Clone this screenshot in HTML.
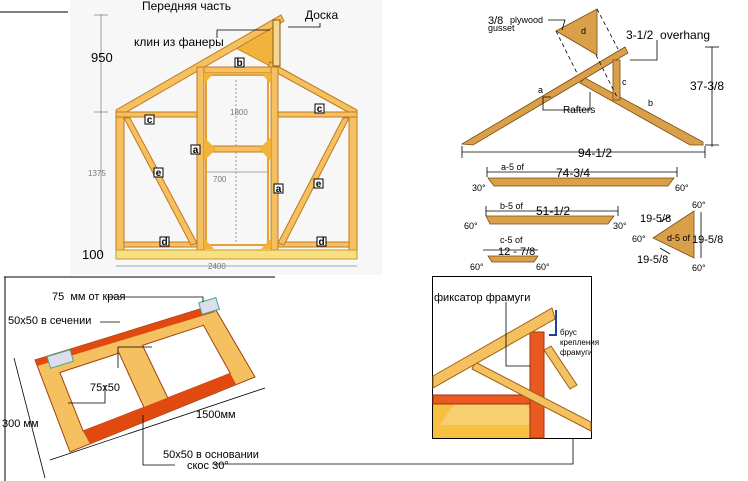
<!DOCTYPE html>
<html><head><meta charset="utf-8"><style>
html,body{margin:0;padding:0;background:#fff;}
svg{display:block;font-family:"Liberation Sans","DejaVu Sans",sans-serif;}
</style></head><body>
<svg width="748" height="481" viewBox="0 0 748 481" xmlns="http://www.w3.org/2000/svg">
<rect x="70" y="0" width="312" height="275" fill="#f7f7f7"/>
<line x1="0" y1="12" x2="68" y2="12" stroke="#000" stroke-width="1"/>
<line x1="4" y1="277" x2="275" y2="277" stroke="#000" stroke-width="1"/>
<g stroke="#888" stroke-width="0.8">
<line x1="101" y1="14" x2="101" y2="255"/><line x1="94" y1="15" x2="108" y2="15"/><line x1="94" y1="112" x2="108" y2="112"/>
<line x1="116" y1="266" x2="357" y2="266"/><line x1="236" y1="80" x2="236" y2="245" stroke-dasharray="2,2"/>
<line x1="206" y1="172" x2="268" y2="172"/>
</g>
<polygon points="230,45 280,18 274,68" fill="#f2b33c" stroke="#c98a20"/>
<polygon points="116,110 281,15 284,21 118,117" fill="#f4c060" stroke="#c07a20"/>
<polygon points="270,62 357,110 357,117 268,68" fill="#f4c060" stroke="#c07a20"/>
<rect x="273" y="20" width="7" height="46" fill="#f5d890" stroke="#8a5a10"/>
<rect x="116" y="112" width="8" height="138" fill="#f4c060" stroke="#c07a20"/>
<rect x="349" y="112" width="8" height="138" fill="#f4c060" stroke="#c07a20"/>
<rect x="197" y="67" width="7" height="183" fill="#f4c060" stroke="#c07a20"/>
<rect x="271" y="67" width="7" height="183" fill="#f4c060" stroke="#c07a20"/>
<rect x="204" y="67" width="67" height="6" fill="#f4c060" stroke="#c07a20"/>
<rect x="116" y="112" width="81" height="5" fill="#f4c060" stroke="#c07a20"/>
<rect x="278" y="112" width="79" height="5" fill="#f4c060" stroke="#c07a20"/>
<rect x="124" y="242" width="73" height="5" fill="#f4c060" stroke="#c07a20"/>
<rect x="278" y="242" width="71" height="5" fill="#f4c060" stroke="#c07a20"/>
<rect x="116" y="250" width="241" height="9" fill="#f8e080" stroke="#c09a30"/>
<polygon points="124,118 130,118 197,243 191,245" fill="#f4c060" stroke="#c07a20"/>
<polygon points="349,118 343,118 278,243 284,245" fill="#f4c060" stroke="#c07a20"/>
<rect x="206" y="75" width="62" height="170" fill="none" stroke="#e8a030" stroke-width="2"/>
<rect x="210" y="146" width="54" height="6" fill="#f4c060" stroke="#c07a20"/>
<polygon points="204,137 216,149 204,161" fill="#f2b33c"/><polygon points="271,137 259,149 271,161" fill="#f2b33c"/>
<polygon points="204,73 214,73 204,84" fill="#f2b33c"/><polygon points="271,73 261,73 271,84" fill="#f2b33c"/>
<polygon points="204,249 204,238 214,249" fill="#f2b33c"/><polygon points="271,249 271,238 261,249" fill="#f2b33c"/>
<g font-size="10" font-weight="bold" text-anchor="middle">
<rect x="235" y="58" width="9" height="9" fill="#fff" stroke="#000"/><text x="239.5" y="66">b</text>
<rect x="145" y="115" width="9" height="9" fill="#fff" stroke="#000"/><text x="149.5" y="123">c</text>
<rect x="315" y="104" width="9" height="9" fill="#fff" stroke="#000"/><text x="319.5" y="112">c</text>
<rect x="191" y="145" width="9" height="9" fill="#fff" stroke="#000"/><text x="195.5" y="153">a</text>
<rect x="274" y="184" width="9" height="9" fill="#fff" stroke="#000"/><text x="278.5" y="192">a</text>
<rect x="154" y="168" width="9" height="9" fill="#fff" stroke="#000"/><text x="158.5" y="176">e</text>
<rect x="314" y="179" width="9" height="9" fill="#fff" stroke="#000"/><text x="318.5" y="187">e</text>
<rect x="160" y="237" width="9" height="9" fill="#fff" stroke="#000"/><text x="164.5" y="245">d</text>
<rect x="317" y="237" width="9" height="9" fill="#fff" stroke="#000"/><text x="321.5" y="245">d</text>
</g>
<g font-size="12" fill="#000">
<text x="142" y="10">Передняя часть</text>
<text x="305" y="19">Доска</text>
<text x="134" y="46">клин из фанеры</text>
<text x="91" y="62" font-size="13">950</text>
<text x="82" y="259" font-size="13">100</text>
</g>
<polyline points="217,38 217,30 270,30" fill="none" stroke="#000" stroke-width="0.8"/>
<polyline points="288,27 320,27 320,23" fill="none" stroke="#000" stroke-width="0.8"/>
<g font-size="8" fill="#777"><text x="88" y="176">1375</text><text x="208" y="269">2400</text><text x="230" y="115">1800</text><text x="213" y="182">700</text></g>

<g stroke="#7a4a10" fill="#d9a049" stroke-width="0.8">
<polygon points="556,31 597,9 597,55"/>
<polygon points="462,144 625,47 628,53 473,145"/>
<polygon points="585,78 703,142 703,145 690,145 580,83"/>
<rect x="613" y="60" width="7" height="40"/>
<polygon points="488,178 674,178 668,186 494,186"/>
<polygon points="486,216 614,216 608,224 490,224"/>
<polygon points="488,256 538,256 534,262 492,262"/>
<polygon points="653,238 694,211 694,258"/>
</g>
<g stroke="#000" stroke-width="0.8" fill="none">
<line x1="556" y1="31" x2="577" y2="73" stroke-dasharray="4,3"/>
<line x1="597" y1="9" x2="618" y2="49" stroke-dasharray="4,3"/>
<line x1="596" y1="55" x2="617" y2="97" stroke-dasharray="4,3"/>
<line x1="462" y1="152" x2="705" y2="152"/><line x1="462" y1="146" x2="462" y2="158"/><line x1="705" y1="146" x2="705" y2="158"/>
<line x1="712" y1="47" x2="712" y2="147"/><line x1="705" y1="47" x2="719" y2="47"/><line x1="705" y1="145" x2="719" y2="145"/>
<line x1="487" y1="172" x2="677" y2="172"/><line x1="487" y1="167" x2="487" y2="177"/><line x1="677" y1="167" x2="677" y2="177"/>
<line x1="486" y1="211" x2="618" y2="211"/><line x1="486" y1="206" x2="486" y2="216"/><line x1="618" y1="206" x2="618" y2="216"/>
<line x1="483" y1="250" x2="538" y2="250"/>
<line x1="701" y1="212" x2="701" y2="258"/>
<line x1="660" y1="222" x2="670" y2="216"/><line x1="660" y1="248" x2="670" y2="254"/>
<polyline points="548,20 565,20 562,30"/>
<polyline points="657,40 657,60 630,60"/>
<polyline points="551,97 543,97 543,110 590,110 590,92"/>
</g>
<g font-size="9" fill="#000">
<text x="488" y="24" font-size="11">3/8</text><text x="510" y="23">plywood</text><text x="488" y="31">gusset</text>
<text x="581" y="34">d</text>
<text x="626" y="39" font-size="12">3-1/2&#160; overhang</text>
<text x="690" y="90" font-size="12">37-3/8</text>
<text x="578" y="157" font-size="12">94-1/2</text>
<text x="538" y="93">a</text><text x="622" y="85">c</text><text x="648" y="106">b</text>
<text x="563" y="113" font-size="10">Rafters</text>
<text x="501" y="170">a-5 of</text><text x="556" y="177" font-size="12">74-3/4</text>
<text x="472" y="191">30°</text><text x="675" y="191">60°</text>
<text x="500" y="209">b-5 of</text><text x="536" y="215" font-size="12">51-1/2</text>
<text x="464" y="229">60°</text><text x="613" y="229">30°</text>
<text x="500" y="243">c-5 of</text><text x="498" y="255" font-size="11">12 - 7/8</text>
<text x="470" y="270">60°</text><text x="536" y="270">60°</text>
<text x="640" y="222" font-size="11">19-5/8</text><text x="692" y="243" font-size="11">19-5/8</text><text x="637" y="263" font-size="11">19-5/8</text>
<text x="632" y="242">60°</text><text x="692" y="208">60°</text><text x="692" y="271">60°</text>
<text x="667" y="241">d-5 of</text>
</g>

<line x1="5" y1="277" x2="5" y2="481" stroke="#000"/>
<path fill-rule="evenodd" fill="#f4c060" stroke="#a04010" stroke-width="1"
d="M35,360 L213,305 L255,377 L70,452 Z M59.9,372.5 L119.1,353.1 L143.9,407.3 L83.1,431 Z M142.5,345.4 L203.5,325.3 L230.3,373.4 L167.8,397.9 Z"/>
<polygon points="35,360 213,305 215,312 37,366" fill="#e04a10"/>
<polygon points="83,431 230,373 236,384 90,444" fill="#e04a10"/>
<rect x="48" y="353" width="24" height="12" fill="#dde" stroke="#4a8" transform="rotate(-17 60 358)"/>
<rect x="200" y="300" width="18" height="12" fill="#dde" stroke="#4a8" transform="rotate(-17 209 306)"/>
<g stroke="#000" stroke-width="0.8" fill="none">
<line x1="14" y1="358" x2="45" y2="478"/><line x1="50" y1="460" x2="265" y2="388"/>
<polyline points="107,297 203,297 203,302"/>
<line x1="100" y1="322" x2="120" y2="322"/>
<polyline points="118,368 118,347 152,347"/>
<polyline points="68,403 105,403 105,385"/>
<polyline points="143,415 143,465 175,465"/>
<polyline points="212,464 573,464 573,387"/>
</g>
<g font-size="11" fill="#000">
<text x="52" y="300">75&#160; мм от края</text>
<text x="8" y="324">50x50 в сечении</text>
<text x="90" y="391">75x50</text>
<text x="2" y="427">300 мм</text>
<text x="196" y="418">1500мм</text>
<text x="163" y="458">50x50 в основании</text>
<text x="187" y="469">скос 30°</text>
</g>

<rect x="432.5" y="276.5" width="159" height="162" fill="#fff" stroke="#000"/>
<rect x="433" y="403" width="110" height="35" fill="#f8c040"/>
<polygon points="455,403 525,403 540,425 440,425" fill="#f6d070"/>
<rect x="433" y="395" width="110" height="9" fill="#e85a20" stroke="#a03010"/>
<rect x="530" y="332" width="14" height="106" fill="#e85a20" stroke="#a03010"/>
<polygon points="475,362 591,422 591,431 472,369" fill="#f4c060" stroke="#a06010"/>
<polygon points="433,376 552,308 555,319 433,388" fill="#f4c060" stroke="#a06010"/>
<polygon points="544,350 551,346 577,385 570,389" fill="#f4c060" stroke="#a06010"/>
<polyline points="556,310 556,335 549,335" fill="none" stroke="#2040a0" stroke-width="2"/>
<polyline points="506,302 506,366 530,366" fill="none" stroke="#000" stroke-width="0.8"/>
<g font-size="10" fill="#000">
<text x="434" y="301" font-size="11">фиксатор фрамуги</text>
<text x="560" y="335" font-size="8">брус</text>
<text x="560" y="345" font-size="8">крепления</text>
<text x="560" y="355" font-size="8">фрамуги</text>
</g>
</svg>
</body></html>
